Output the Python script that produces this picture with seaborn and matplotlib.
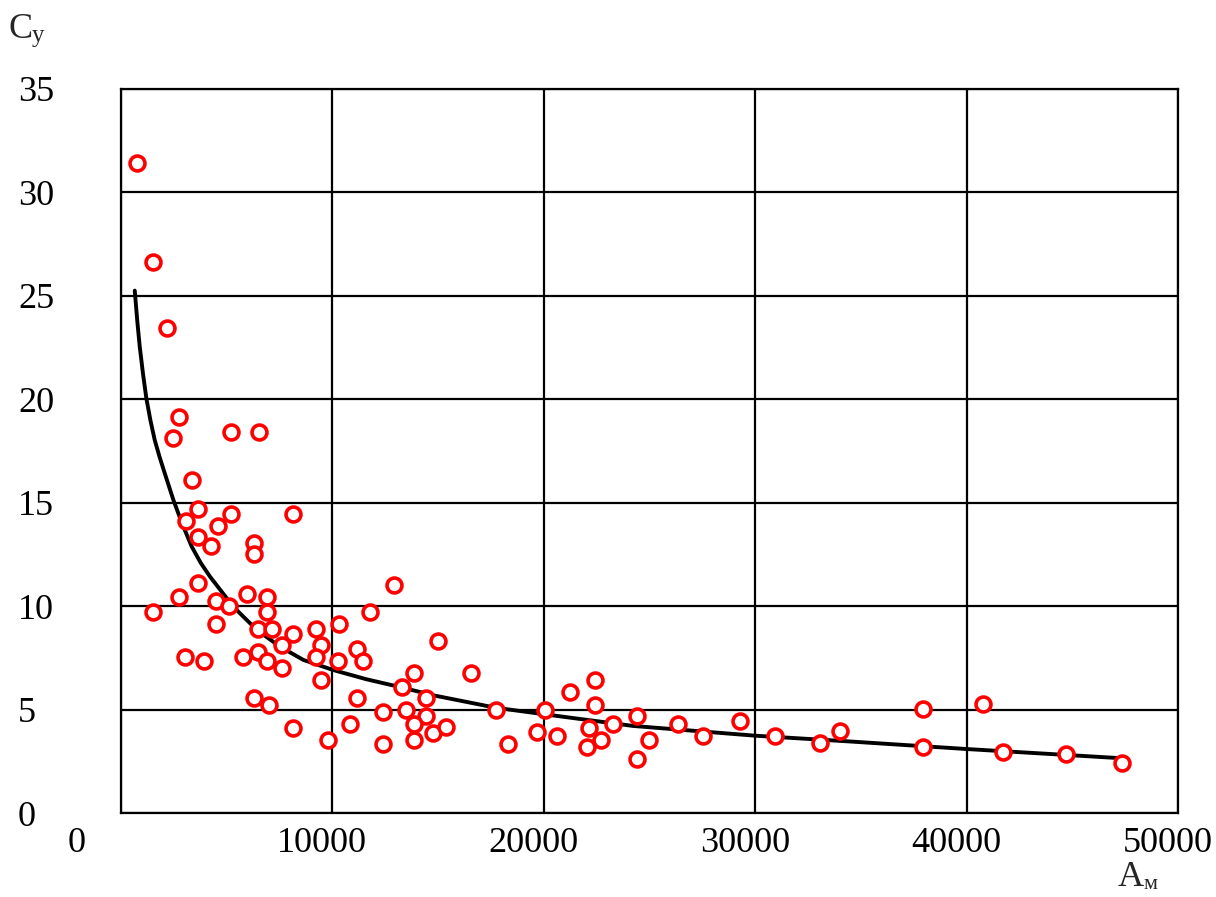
import matplotlib
matplotlib.use("Agg")
import matplotlib.pyplot as plt
import matplotlib.transforms as mtransforms
import seaborn as sns

# ── Data ────────────────────────────────────────────────────────────────────
a_m = [760, 1540, 2170, 2760, 2460, 5200, 6540, 3360, 3640, 3090,
       5200, 8130, 3640, 4590, 4250, 6300, 6300, 3640, 2760, 1540,
       4520, 5130, 5950, 6900, 6900, 4520, 6510, 7150, 8150, 9220,
       10300, 12910, 11790, 14980, 3040, 3940, 5770, 6510, 6900, 7610,
       7610, 9490, 9210, 11170, 10270, 11460, 16550, 13880, 13280, 9480,
       6320, 7010, 11190, 14450, 13490, 12410, 14450, 13880, 10840, 8160,
       14750, 15370, 9800, 12400, 13880, 17720, 18310, 20060, 19700, 20640,
       21240, 22420, 22420, 22120, 22060, 22710, 23290, 24400, 24980, 24400,
       26330, 27520, 29280, 30930, 33060, 34010, 37940, 37940, 40750, 41700,
       44690, 47320]
c_y = [31.43, 26.65, 23.46, 19.16, 18.12, 18.41, 18.41, 16.10, 14.69, 14.14,
       14.44, 14.44, 13.33, 13.88, 12.93, 13.07, 12.53, 11.14, 10.46, 9.71,
       10.27, 10.02, 10.58, 10.47, 9.71, 9.14, 8.89, 8.89, 8.65, 8.89,
       9.14, 11.03, 9.71, 8.32, 7.54, 7.36, 7.54, 7.78, 7.36, 7.00,
       8.11, 8.12, 7.54, 7.92, 7.36, 7.36, 6.79, 6.79, 6.12, 6.44,
       5.58, 5.23, 5.58, 5.58, 4.99, 4.88, 4.71, 4.31, 4.31, 4.11,
       3.89, 4.15, 3.54, 3.33, 3.54, 4.99, 3.34, 4.99, 3.95, 3.74,
       5.87, 6.43, 5.25, 4.12, 3.18, 3.56, 4.33, 4.71, 3.56, 2.62,
       4.31, 3.73, 4.46, 3.73, 3.38, 3.98, 5.02, 3.22, 5.27, 2.98,
       2.86, 2.42]

# trend line, points
trend_x = [662, 780, 898, 1050, 1210, 1400, 1607, 1840, 2080, 2487,
           2900, 3357, 3780, 4222, 5323, 6430, 7531, 8633, 10050, 11600,
           13200, 14780, 17730, 20060, 24230, 29990, 34480, 39920, 47320]
trend_y = [25.25, 23.80, 22.54, 21.25, 20.05, 19.00, 18.03, 17.20, 16.43, 15.14,
           14.00, 12.88, 12.10, 11.43, 9.98, 8.86, 8.05, 7.41, 6.92, 6.48,
           6.10, 5.70, 5.10, 4.78, 4.22, 3.75, 3.47, 3.11, 2.66]

x_ticks = [0, 10000, 20000, 30000, 40000, 50000]
y_ticks = [0, 5, 10, 15, 20, 25, 30, 35]

# ── Style ───────────────────────────────────────────────────────────────────
sns.set_theme(style="white")
plt.rcParams["font.family"] = ["Liberation Serif", "DejaVu Serif"]
FS = 26

fig = plt.figure(figsize=(12.16, 8.97), dpi=100)
ax = fig.add_axes([0.0993, 0.0933, 0.8697, 0.8077])

sns.lineplot(x=trend_x, y=trend_y, color="black", lw=2.8,
             sort=False, estimator=None, ax=ax, zorder=2)
sns.scatterplot(x=a_m, y=c_y, marker="o", s=115, color="white",
                edgecolor="red", linewidth=2.6, ax=ax, zorder=3)

ax.set_xlim(0, 50000)
ax.set_ylim(0, 35)
ax.set_xticks(x_ticks)
ax.set_yticks(y_ticks)
ax.set_xticklabels([str(v) for v in x_ticks])
ax.set_yticklabels([str(v) for v in y_ticks])
ax.set_axisbelow(True)
ax.grid(True, color="black", lw=1.6)
for sp in ax.spines.values():
    sp.set_color("black")
    sp.set_linewidth(1.6)

ax.tick_params(axis="both", length=0, labelsize=FS, colors="black")
ax.tick_params(axis="x", pad=9.5)
ax.tick_params(axis="y", pad=74)
for lab in ax.get_yticklabels():
    lab.set_horizontalalignment("left")

# x tick labels sit a little left of their gridlines, the "0" much further
for i, lab in enumerate(ax.get_xticklabels()):
    dx = -44 if i == 0 else -10
    off = mtransforms.ScaledTranslation(dx / 100, 0, fig.dpi_scale_trans)
    lab.set_transform(lab.get_transform() + off)

# axis names
fig.text(9 / 1216, 1 - 38.3 / 897, "C", fontsize=FS, ha="left", va="baseline")
fig.text(32 / 1216, 1 - 42 / 897, "y", fontsize=18, ha="left", va="baseline")
fig.text(1118 / 1216, 1 - 886 / 897, "A", fontsize=FS, ha="left", va="baseline")
fig.text(1144 / 1216, 1 - 889 / 897, "м", fontsize=16, ha="left", va="baseline")

fig.savefig("out.png", dpi=100)
plt.close(fig)
